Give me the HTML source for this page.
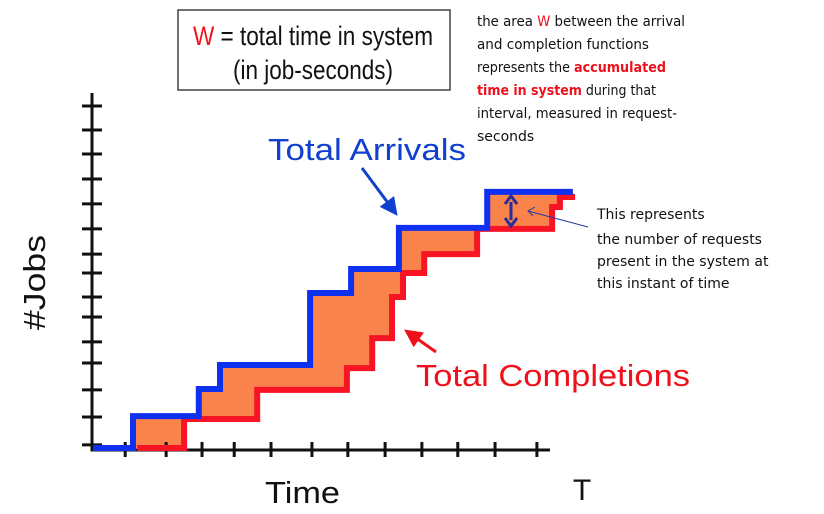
<!DOCTYPE html>
<html><head><meta charset="utf-8"><style>
html,body{margin:0;padding:0;background:#fff;}
svg{display:block;}
.sans{font-family:"Liberation Sans",sans-serif;}
.dv{font-family:"DejaVu Sans","Liberation Sans",sans-serif;}
</style></head><body>
<svg id="chart" width="824" height="514" viewBox="0 0 824 514">
<defs>
<marker id="ab" markerWidth="6" markerHeight="6" refX="4" refY="3" orient="auto" markerUnits="strokeWidth"><path d="M0,0 L6,3 L0,6 z" fill="#1040d0"/></marker>
<marker id="ar" markerWidth="6" markerHeight="6" refX="4" refY="3" orient="auto" markerUnits="strokeWidth"><path d="M0,0 L6,3 L0,6 z" fill="#f0101c"/></marker>
</defs>
<rect x="178" y="10" width="272" height="80" fill="#fff" stroke="#222" stroke-width="1.3"/>
<text x="193" y="45" textLength="240" lengthAdjust="spacingAndGlyphs" class="sans" font-size="27" fill="#111"><tspan fill="#f0101c">W</tspan> = total time in system</text>
<text x="233" y="79" textLength="160" lengthAdjust="spacingAndGlyphs" class="sans" font-size="27" fill="#111">(in job-seconds)</text>
<g class="dv" font-size="14" fill="#111">
<text x="477" y="26" textLength="208" lengthAdjust="spacingAndGlyphs">the area <tspan fill="#f0101c">W</tspan> between the arrival</text>
<text x="477" y="49" textLength="172" lengthAdjust="spacingAndGlyphs">and  completion functions</text>
<text x="477" y="72" textLength="189" lengthAdjust="spacingAndGlyphs">represents the <tspan fill="#f0101c" font-weight="bold">accumulated</tspan></text>
<text x="477" y="95" textLength="179" lengthAdjust="spacingAndGlyphs"><tspan fill="#f0101c" font-weight="bold">time in system</tspan> during that</text>
<text x="477" y="118" textLength="200" lengthAdjust="spacingAndGlyphs">interval, measured in request-</text>
<text x="477" y="141">seconds</text>
</g>
<g class="dv" font-size="14" fill="#111">
<text x="597" y="219">This represents</text>
<text x="597" y="244">the number of requests</text>
<text x="597" y="266">present in the system at</text>
<text x="597" y="288">this instant of time</text>
</g>
<g id="plot"></g>
<text x="268" y="160" textLength="198" lengthAdjust="spacingAndGlyphs" class="sans" font-size="31" fill="#1040d0">Total Arrivals</text>
<line x1="362" y1="168" x2="394" y2="211" stroke="#1040d0" stroke-width="3" marker-end="url(#ab)"/>
<text x="416" y="386" textLength="274" lengthAdjust="spacingAndGlyphs" class="sans" font-size="31" fill="#f0101c">Total Completions</text>
<line x1="436" y1="352" x2="409" y2="333" stroke="#f0101c" stroke-width="3" marker-end="url(#ar)"/>
<text x="-330" y="45" transform="rotate(-90)" textLength="95" lengthAdjust="spacingAndGlyphs" class="sans" font-size="31" fill="#111">#Jobs</text>
<text x="265" y="503" textLength="75" lengthAdjust="spacingAndGlyphs" class="sans" font-size="31" fill="#111">Time</text>
<text x="582" y="500" text-anchor="middle" class="sans" font-size="30" fill="#111">T</text>
</svg>
<script>
// time values (0..~105 scale) and cumulative job counts
const arrivalTimes = [0, 8.7, 23, 27.6, 47.2, 56.1, 66.5, 85.7, 104.3];
const arrivalCounts = [0, 1.33, 2.46, 3.46, 6.46, 7.46, 9.17, 10.67];
const completionTimes = [9.6, 19.8, 35.7, 55.2, 60.7, 65, 67.4, 72, 83.5, 99.8, 101.5, 104.8];
const completionCounts = [0, 1.21, 2.42, 3.33, 4.58, 6.29, 7.29, 8.08, 9.13, 10.04, 10.46];
const xTicks = [7, 15.9, 23.7, 30.7, 38.7, 47.6, 55.4, 63.5, 71.5, 79.3, 87.4, 96.5];
const yTicks = [0.13, 1.29, 2.42, 3.54, 4.42, 5.46, 6.29, 7.29, 8.08, 9.13, 10.17, 11.21, 12.25, 13.25, 14.25];

const NS = 'http://www.w3.org/2000/svg';
const X0 = 93, Y0 = 448;
const xs = t => X0 + t * 4.6;
const ys = c => Y0 - c * 24;
const plot = document.getElementById('plot');

function stepPts(times, counts) {
  const p = [];
  for (let i = 0; i < counts.length; i++) {
    p.push([xs(times[i]), ys(counts[i])]);
    p.push([xs(times[i + 1]), ys(counts[i])]);
  }
  return p;
}
const bp = stepPts(arrivalTimes, arrivalCounts);
const rp = stepPts(completionTimes, completionCounts);
const toStr = p => p.map(q => q[0].toFixed(1) + ',' + q[1].toFixed(1)).join(' ');

const fill = document.createElementNS(NS, 'polygon');


fill.setAttribute('points', toStr(bp.concat(rp.slice().reverse())));
fill.setAttribute('fill', '#f9834a');
plot.appendChild(fill);

const ax = document.createElementNS(NS, 'path');


ax.setAttribute('d', `M${X0-1},93 L${X0-1},${Y0+2} L550,${Y0+2}`);
ax.setAttribute('stroke', '#111'); ax.setAttribute('stroke-width', '3'); ax.setAttribute('fill', 'none');
plot.appendChild(ax);
yTicks.forEach(v => {
  const l = document.createElementNS(NS, 'line');
  
  
  const y = ys(v);
  l.setAttribute('x1', X0 - 11); l.setAttribute('x2', X0 + 9);
  l.setAttribute('y1', y); l.setAttribute('y2', y);
  l.setAttribute('stroke', '#111'); l.setAttribute('stroke-width', '3');
  plot.appendChild(l);
});
xTicks.forEach(v => {
  const l = document.createElementNS(NS, 'line');
  
  
  const x = xs(v);
  l.setAttribute('x1', x); l.setAttribute('x2', x);
  l.setAttribute('y1', Y0 - 6); l.setAttribute('y2', Y0 + 9);
  l.setAttribute('stroke', '#111'); l.setAttribute('stroke-width', '3');
  plot.appendChild(l);
});

const red = document.createElementNS(NS, 'polyline');


red.setAttribute('points', toStr(rp));
red.setAttribute('fill', 'none'); red.setAttribute('stroke', '#f81425'); red.setAttribute('stroke-width', '6');
plot.appendChild(red);

const blue = document.createElementNS(NS, 'polyline');


blue.setAttribute('points', toStr(bp));
blue.setAttribute('fill', 'none'); blue.setAttribute('stroke', '#1030f0'); blue.setAttribute('stroke-width', '6');
plot.appendChild(blue);

const da = document.createElementNS(NS, 'g');


da.innerHTML = '<line x1="511" y1="202" x2="511" y2="220" stroke="#2a2a9a" stroke-width="3"/>' +
  '<path d="M505,204 L511,196 L517,204" fill="none" stroke="#2a2a9a" stroke-width="3"/>' +
  '<path d="M505,218 L511,226 L517,218" fill="none" stroke="#2a2a9a" stroke-width="3"/>' +
  '<line x1="588" y1="227" x2="528" y2="211" stroke="#2a3aa0" stroke-width="1"/>' +
  '<path d="M535,207 L528,211 L533,216" fill="none" stroke="#2a3aa0" stroke-width="1"/>';
plot.appendChild(da);
</script>
</body></html>
